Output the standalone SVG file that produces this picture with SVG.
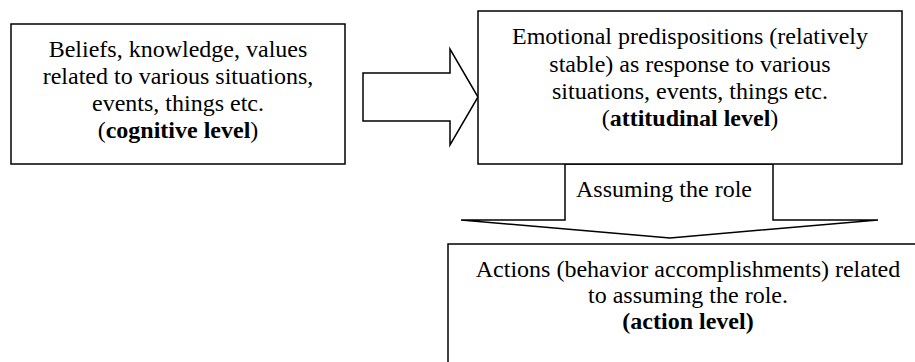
<svg xmlns="http://www.w3.org/2000/svg" width="915" height="362" viewBox="0 0 915 362">
<style>
.box{fill:#fff;stroke:#000;stroke-width:1.5}
.arr{fill:#fff;stroke:#000;stroke-width:1.5;stroke-linejoin:miter}
text{font-family:"Liberation Serif","Times New Roman",serif;font-size:24px;fill:#000}
.c{text-anchor:middle}
.b{font-weight:bold}
</style>
<rect width="915" height="362" fill="#fff"/>
<g id="connectors">
<polygon class="arr" points="363,73 450,73 450,49 478,97 450,145 450,121 363,121"/>
<polygon class="arr" points="565,164 773,164 773,220 878,220 670,238 461,220 565,220"/>
<text x="576" y="197">Assuming the role</text>
</g>
<g id="cognitive">
<rect class="box" x="11" y="24" width="334" height="140"/>
<text class="c" x="178" y="57">Beliefs, knowledge, values</text>
<text class="c" x="178" y="84">related to various situations,</text>
<text class="c" x="178" y="111">events, things etc.</text>
<text class="c" x="178" y="138">(<tspan class="b">cognitive level</tspan>)</text>
</g>
<g id="attitudinal">
<rect class="box" x="478" y="11" width="424" height="153"/>
<text class="c" x="690" y="44">Emotional predispositions (relatively</text>
<text class="c" x="690" y="72">stable) as response to various</text>
<text class="c" x="690" y="99">situations, events, things etc.</text>
<text class="c" x="690" y="126">(<tspan class="b">attitudinal level</tspan>)</text>
</g>
<g id="action">
<rect class="box" x="448" y="244" width="480" height="130"/>
<text class="c" x="688" y="277">Actions (behavior accomplishments) related</text>
<text class="c" x="688" y="303">to assuming the role.</text>
<text class="c b" x="688" y="329">(action level)</text>
</g>
</svg>
